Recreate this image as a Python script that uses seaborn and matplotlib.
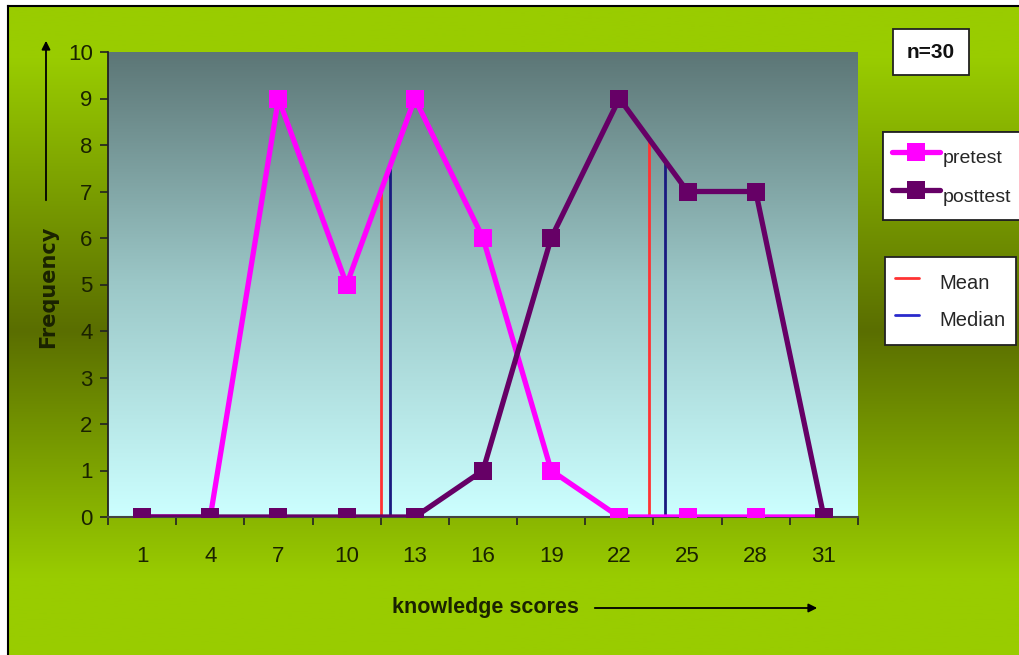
import numpy as np
import pandas as pd
import matplotlib
matplotlib.use("Agg")
import matplotlib.pyplot as plt
from matplotlib.colors import LinearSegmentedColormap
from matplotlib.lines import Line2D
import seaborn as sns

# ---------------- data ----------------
scores = [1, 4, 7, 10, 13, 16, 19, 22, 25, 28, 31]
pretest = [0, 0, 9, 5, 9, 6, 1, 0, 0, 0, 0]
posttest = [0, 0, 0, 0, 0, 1, 6, 9, 7, 7, 0]
series_names = ["pretest", "posttest"]
# mean / median markers (score, height)
mean_scores = [11.5, 23.3]
mean_heights = [7.1, 8.1]
median_scores = [11.9, 24.0]
median_heights = [7.5, 7.7]
n_label = "n=30"

# ---------------- style ----------------
sns.set_theme(style="white")
FONT = ["Liberation Sans", "DejaVu Sans"]
plt.rcParams["font.family"] = FONT

W, H = 1019, 655
fig = plt.figure(figsize=(W / 100, H / 100), dpi=100)
fig.patch.set_facecolor("white")

def fx(px):
    return px / W

def fy(py):
    return 1 - py / H

# outer green gradient background
bg = fig.add_axes([fx(8), 0, 1 - fx(8), fy(6)])
bg_cmap = LinearSegmentedColormap.from_list(
    "bg", [(0, "#99cc00"), (0.08, "#99cc00"), (0.5, "#5a6e00"), (0.88, "#99cc00"), (1, "#99cc00")])
grad = np.linspace(0, 1, 256).reshape(-1, 1)
bg.imshow(grad, aspect="auto", cmap=bg_cmap, extent=[0, 1, 0, 1], origin="upper")
bg.set_xlim(0, 1); bg.set_ylim(0, 1)
bg.set_xticks([]); bg.set_yticks([])
for s in ["left", "top"]:
    bg.spines[s].set_color("black"); bg.spines[s].set_linewidth(1.5)
for s in ["right", "bottom"]:
    bg.spines[s].set_visible(False)
bg.set_zorder(0)

# main plot axes
L, R, T, B = 108, 858, 52, 517
ax = fig.add_axes([fx(L), fy(B), fx(R - L), (B - T) / H])
ax.set_zorder(1)
pa_cmap = LinearSegmentedColormap.from_list("pa", ["#5c7676", "#9cc8c8", "#ccffff"])
ax.imshow(grad, aspect="auto", cmap=pa_cmap, extent=[-0.5, 10.5, 0, 10], origin="upper", zorder=0)

pos = list(range(len(scores)))
df = pd.DataFrame({
    "pos": pos * 2,
    "freq": pretest + posttest,
    "test": ["pretest"] * len(scores) + ["posttest"] * len(scores),
})
colors = {"pretest": "#ff00ff", "posttest": "#660066"}

def to_pos(s):
    return (s - scores[0]) / (scores[1] - scores[0])

# mean / median lines
for s, h in zip(mean_scores, mean_heights):
    ax.vlines(to_pos(s), 0, h, colors="#ff3333", linewidth=2.0, zorder=2)
for s, h in zip(median_scores, median_heights):
    ax.vlines(to_pos(s), 0, h, colors="#1a1a80", linewidth=2.0, zorder=2)

sns.lineplot(data=df, x="pos", y="freq", hue="test", hue_order=series_names,
             style="test", markers={"pretest": "s", "posttest": "s"}, dashes=False,
             palette=colors, linewidth=3.8, markersize=12.5, markeredgewidth=0,
             legend=False, ax=ax, zorder=3)

TXT = "#1a2200"
ax.set_xlim(-0.5, 10.5)
ax.set_ylim(0, 10)
ax.set_xticks(pos)
ax.set_xticklabels([str(s) for s in scores])
ax.set_xticks(np.arange(-0.5, 11, 1), minor=True)
ax.set_yticks(range(0, 11))
ax.tick_params(axis="x", which="major", length=0, pad=21, labelsize=16, labelcolor=TXT)
ax.tick_params(axis="x", which="minor", length=6, width=1.2, color="#222222", direction="out", bottom=True)
ax.tick_params(axis="y", which="major", length=6, width=1.2, color="#222222", direction="out",
               left=True, pad=5, labelsize=16, labelcolor=TXT)
for s in ["top", "right"]:
    ax.spines[s].set_visible(False)
ax.spines["left"].set_color("#222222"); ax.spines["left"].set_linewidth(1.3)
ax.spines["bottom"].set_color("#444444"); ax.spines["bottom"].set_linewidth(1.5)
ax.set_xlabel(""); ax.set_ylabel("")
ax.set_facecolor("none")

# axis titles with arrows
fig.text(fx(48), fy(287), "Frequency", rotation=90, ha="center", va="center",
         fontsize=15, fontweight="bold", color=TXT,
         family=["DejaVu Sans"])
fig.add_artist(matplotlib.patches.FancyArrowPatch(
    (fx(46), fy(203)), (fx(46), fy(38)), transform=fig.transFigure,
    arrowstyle="-|>,head_length=5,head_width=2.5", color="black", linewidth=1.3))
fig.text(fx(485), fy(607), "knowledge scores", ha="center", va="center",
         fontsize=15.5, fontweight="bold", color=TXT, family=FONT)
fig.add_artist(matplotlib.patches.FancyArrowPatch(
    (fx(592), fy(608)), (fx(820), fy(608)), transform=fig.transFigure,
    arrowstyle="-|>,head_length=5,head_width=2.5", color="black", linewidth=1.3))

# n=30 box
fig.text(fx(931), fy(52), n_label, ha="center", va="center", fontsize=15, fontweight="bold",
         color="#111111", family=FONT,
         bbox=dict(boxstyle="square,pad=0.65", facecolor="white", edgecolor="#222222", linewidth=1.3))

# series legend
h_series = [Line2D([0], [0], color=colors[n], linewidth=3.8, marker="s", markersize=12.5,
                   markeredgewidth=0) for n in series_names]
leg1 = fig.legend(h_series, series_names, loc="upper left", bbox_to_anchor=(fx(883), fy(132)),
                  frameon=True, fancybox=False, edgecolor="#222222", facecolor="white",
                  fontsize=14, handlelength=2.5, handleheight=2.2, handletextpad=0.1,
                  borderpad=0.45, labelspacing=0.3, borderaxespad=0)
leg1.get_frame().set_linewidth(1.3)
leg1.get_frame().set_alpha(1)
fig.add_artist(leg1)

# mean/median legend
h_stats = [Line2D([0], [0], color="#ff3333", linewidth=2.0),
           Line2D([0], [0], color="#2a2acc", linewidth=2.0)]
leg2 = fig.legend(h_stats, ["Mean", "Median"], loc="upper left", bbox_to_anchor=(fx(885), fy(257)),
                  frameon=True, fancybox=False, edgecolor="#222222", facecolor="white",
                  fontsize=14.5, handlelength=1.2, handleheight=2.0, handletextpad=1.0,
                  borderpad=0.5, labelspacing=0.3, borderaxespad=0)
leg2.get_frame().set_linewidth(1.3)
leg2.get_frame().set_alpha(1)

fig.savefig("out.png", dpi=100, facecolor=fig.get_facecolor())
